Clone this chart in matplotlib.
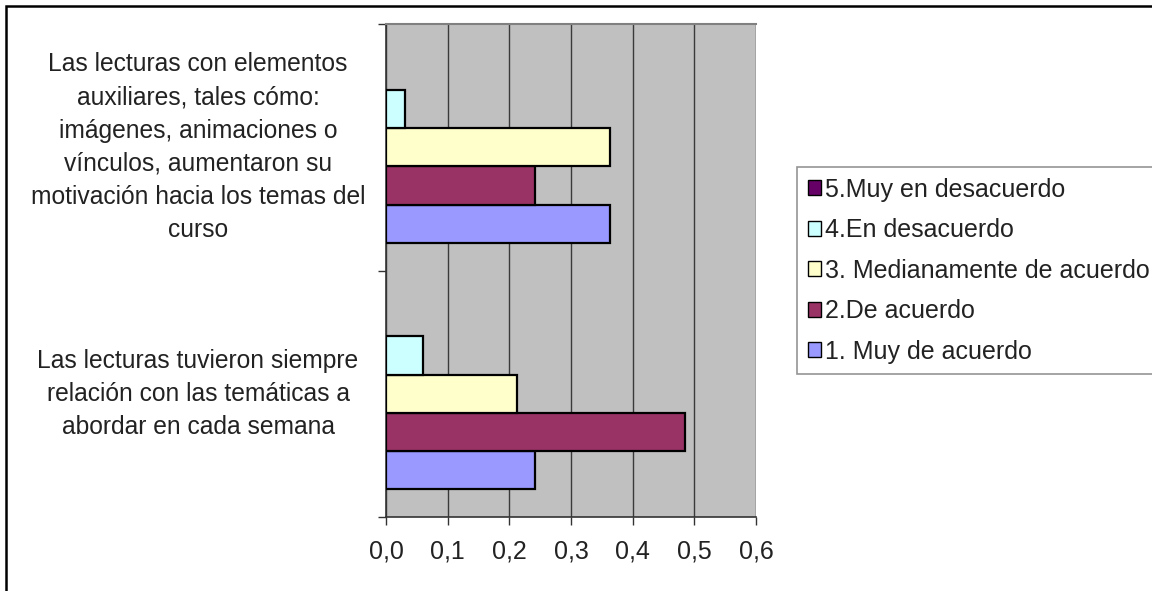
import matplotlib
matplotlib.use("Agg")
import matplotlib.pyplot as plt
import numpy as np
from matplotlib.patches import Rectangle, Patch
from matplotlib.ticker import FuncFormatter

plt.rcParams['font.family'] = ['Liberation Sans', 'DejaVu Sans']

# survey statements (bottom to top)
preguntas = [
    "Las lecturas tuvieron siempre\nrelación con las temáticas a\nabordar en cada semana",
    "Las lecturas con elementos\nauxiliares, tales cómo:\nimágenes, animaciones o\nvínculos, aumentaron su\nmotivación hacia los temas del\ncurso",
]
series = ["1. Muy de acuerdo", "2.De acuerdo", "3. Medianamente de acuerdo",
          "4.En desacuerdo", "5.Muy en desacuerdo"]
colores = ["#9999FF", "#993366", "#FFFFCC", "#CCFFFF", "#660066"]

# share of answers per statement
muy_de_acuerdo = [0.2424, 0.3636]
de_acuerdo = [0.4848, 0.2424]
medianamente = [0.2121, 0.3636]
en_desacuerdo = [0.0606, 0.0303]
muy_en_desacuerdo = [0.0, 0.0]
valores = [muy_de_acuerdo, de_acuerdo, medianamente, en_desacuerdo, muy_en_desacuerdo]

xticks = [0.0, 0.1, 0.2, 0.3, 0.4, 0.5, 0.6]

fig = plt.figure(figsize=(11.52, 5.91), dpi=100)
ax = fig.add_axes([386 / 1152, 1 - 517 / 591, 370 / 1152, 493 / 591])
ax.set_facecolor("#C0C0C0")

y = np.arange(len(preguntas))
h = 0.155
for i, (vals, nombre, col) in enumerate(zip(valores, series, colores)):
    lw = [1.6 if v > 0 else 0 for v in vals]
    ax.barh(y + (i - 2) * h, vals, height=h, color=col, edgecolor="black",
            linewidth=lw, label=nombre, zorder=3)

ax.set_xlim(0, 0.6)
ax.set_ylim(-0.5, 1.5)
ax.set_xticks(xticks)
ax.xaxis.set_major_formatter(FuncFormatter(lambda v, p: f"{v:.1f}".replace(".", ",")))
ax.grid(axis="x", color="#3a3a3a", linewidth=1.0, zorder=1)
ax.set_axisbelow(True)

# category ticks sit between the groups; the statements are written beside them
ax.set_yticks([-0.5, 0.5, 1.5])
ax.set_yticklabels([])
ax.tick_params(axis="y", length=6, width=1, color="#333333", direction="out")
ax.tick_params(axis="x", length=6, width=1, color="#333333", labelsize=18, pad=10,
               labelcolor="#222222")
for yi, texto in zip(y, preguntas):
    ax.text(-0.508, yi, texto, transform=ax.get_yaxis_transform(),
            ha="center", va="center", multialignment="center", linespacing=1.48,
            fontsize=17.7, color="#222222")

for side in ["left", "bottom"]:
    ax.spines[side].set_color("#333333")
    ax.spines[side].set_linewidth(1.2)
ax.spines["top"].set_color("#808080")
ax.spines["top"].set_linewidth(1.5)
ax.spines["right"].set_visible(False)

handles = [Patch(facecolor=c, edgecolor="black", linewidth=1.0) for c in colores][::-1]
leg = fig.legend(handles, series[::-1], loc="upper left",
                 bbox_to_anchor=(797 / 1152, 1 - 167 / 591), borderaxespad=0,
                 fontsize=18, frameon=True, fancybox=False, handlelength=0.55,
                 handleheight=0.55, handletextpad=0.15, labelspacing=0.66,
                 borderpad=0.42)
leg.get_frame().set_edgecolor("#7a7a7a")
leg.get_frame().set_linewidth(1.2)
for t in leg.get_texts():
    t.set_color("#222222")

# outer chart frame
fig.add_artist(Rectangle((6 / 1152, -0.05), 1.2, 1 - 6 / 591 + 0.05,
                         transform=fig.transFigure, fill=False,
                         edgecolor="black", linewidth=1.8, clip_on=False))

fig.savefig("out.png", dpi=100)
